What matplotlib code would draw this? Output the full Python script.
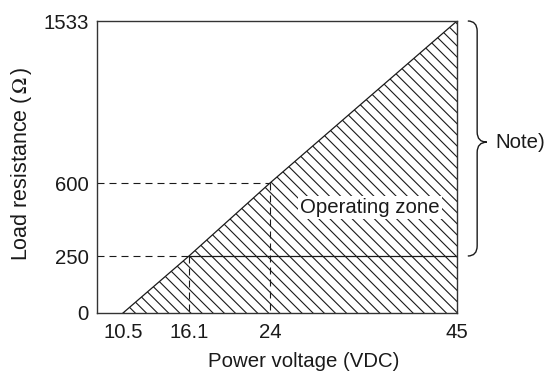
import matplotlib.pyplot as plt
import numpy as np
from matplotlib.path import Path
from matplotlib.patches import PathPatch

plt.rcParams['font.family'] = ['Liberation Sans', 'DejaVu Sans']
plt.rcParams['mathtext.fontset'] = 'stix'
plt.rcParams['hatch.linewidth'] = 0.8

# minimum power voltage needed for each load resistance
boundary_v = [10.5, 16.1, 24, 45]
boundary_r = [0, 250, 600, 1533]
note_min_r = 250

x_ticks = [10.5, 16.1, 24, 45]
x_labels = ["10.5", "16.1", "24", "45"]
y_ticks = [0, 250, 600, 1533]
y_labels = ["0", "250", "600", "1533"]

# schematic axes: ticks are spaced by hand, linear between them
x_knots = [8.3, 10.5, 16.1, 24, 45]
x_spacing = [0, 26, 92, 173, 360]
y_knots = [0, 250, 600, 1533]
y_spacing = [0, 57, 130, 292]


def piecewise(knots, spacing):
    def fwd(v):
        return np.interp(v, knots, spacing)

    def inv(p):
        return np.interp(p, spacing, knots)
    return fwd, inv


ink = "#1a1a1a"
fs = 14.7

fig = plt.figure(figsize=(5.47, 3.76), dpi=100)
ax = fig.add_axes([97 / 547, 63 / 376, 360 / 547, 292 / 376])
ax.set_xscale("function", functions=piecewise(x_knots, x_spacing))
ax.set_yscale("function", functions=piecewise(y_knots, y_spacing))
xmin = x_knots[0]
ax.set_xlim(xmin, 45)
ax.set_ylim(0, 1533)

# hatched operating zone
ax.fill(boundary_v + [45], boundary_r + [0], facecolor="none",
        edgecolor=ink, hatch="\\\\\\", linewidth=0)
ax.plot(boundary_v, boundary_r, color=ink, linewidth=0.9)
ax.plot([boundary_v[1], 45], [note_min_r, note_min_r], color=ink, linewidth=0.9)

# guide lines to the corner points
for v, r in zip(boundary_v[1:3], boundary_r[1:3]):
    ax.plot([xmin, v], [r, r], color=ink, linewidth=0.8, linestyle=(0, (6.3, 4.5)))
    ax.plot([v, v], [r, 0], color=ink, linewidth=0.8, linestyle=(0, (6.3, 4.5)))

ax.text(0.758, 0.36, "Operating zone", transform=ax.transAxes, ha="center",
        va="center", fontsize=fs, color=ink,
        bbox=dict(facecolor="white", edgecolor="none", pad=1.5))

ax.set_xticks(x_ticks, labels=x_labels)
ax.set_yticks(y_ticks, labels=y_labels)
ax.minorticks_off()
ax.tick_params(axis="both", length=0, labelsize=fs, colors=ink)
ax.tick_params(axis="x", pad=7)
ax.tick_params(axis="y", pad=6)
for s in ax.spines.values():
    s.set_linewidth(1.0)
    s.set_color("#333333")

ax.set_xlabel("Power voltage (VDC)", fontsize=fs, color=ink)
ax.xaxis.set_label_coords(0.575, -0.135)
ax.set_ylabel("Load resistance ($\\,\\Omega\\,$)", fontsize=15.5, color=ink)
ax.yaxis.set_label_coords(-0.175, 0.51)

# brace marking the resistance range covered by the note
to_axes = ax.transData + ax.transAxes.inverted()
yb = to_axes.transform((45, note_min_r))[1]
yt = 1.0
ym = 0.585
x0, x1, x2 = 1.03, 1.056, 1.083
h = 0.035
verts = [(x0, yt), (x1, yt), (x1, yt - h),
         (x1, ym + h), (x1, ym), (x2, ym),
         (x1, ym), (x1, ym - h),
         (x1, yb + h), (x1, yb), (x0, yb)]
codes = [Path.MOVETO, Path.CURVE3, Path.CURVE3,
         Path.LINETO, Path.CURVE3, Path.CURVE3,
         Path.CURVE3, Path.CURVE3,
         Path.LINETO, Path.CURVE3, Path.CURVE3]
ax.add_patch(PathPatch(Path(verts, codes), transform=ax.transAxes, fill=False,
                       edgecolor=ink, linewidth=1.0, clip_on=False))
ax.text(1.106, ym, "Note)", transform=ax.transAxes, ha="left", va="center",
        fontsize=fs, color=ink)

plt.savefig("out.png", dpi=100)
